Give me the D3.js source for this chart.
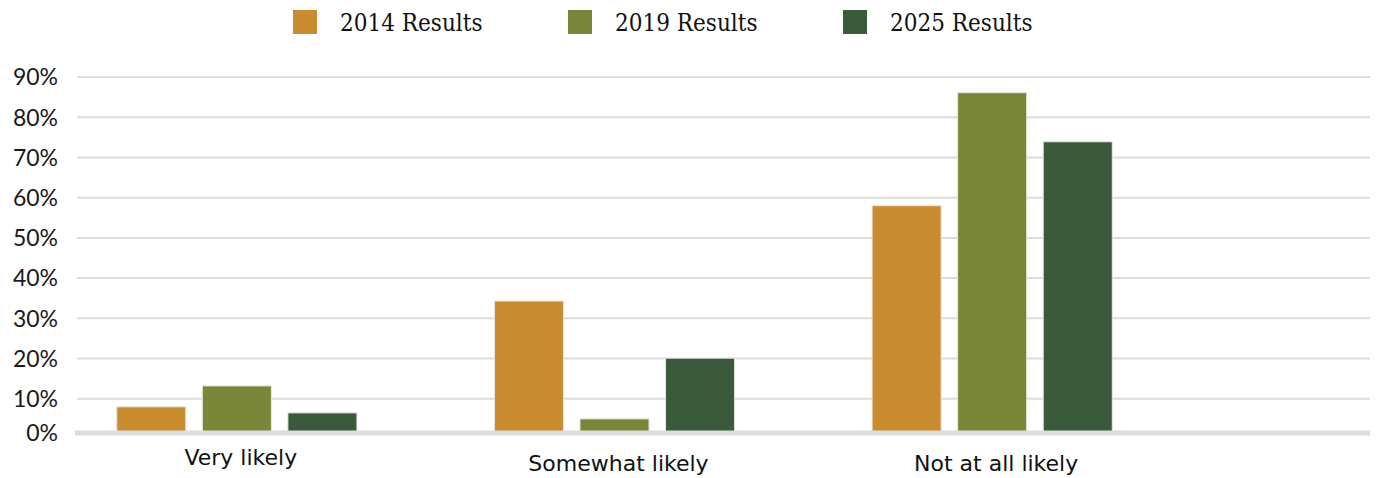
<!DOCTYPE html>
<html>
<head>
<meta charset="utf-8">
<script src="https://cdn.jsdelivr.net/npm/d3@7"></script>
<style>
  body { margin: 0; background: #fff; }
</style>
</head>
<body>
<div id="viz"></div>
<script>
// survey answers by year

const categories = ["Very likely", "Somewhat likely", "Not at all likely"];
const seriesNames = ["2014 Results", "2019 Results", "2025 Results"];
const seriesColors = ["#c98c2e", "#7a8637", "#3a5a3a"];
const results2014 = [8, 34.3, 58];
const results2019 = [13.2, 5, 86.1];
const results2025 = [6.5, 20.1, 73.9];
const yTicks = [0, 10, 20, 30, 40, 50, 60, 70, 80, 90];

const seriesValues = [results2014, results2019, results2025];

function drawChart() {
    const width = 1376, height = 478;
    const baseY = 433;

    const svg = d3.select('#viz').append('svg')
        .attr('width', width)
        .attr('height', height);

    const y = d3.scaleLinear()
        .domain([0, 90])
        .range([439, 77]);

    const x0 = d3.scaleBand()
        .domain(categories)
        .range([48, 1181])
        .paddingInner(0.364)
        .paddingOuter(0.182);

    const x1 = d3.scaleBand()
        .domain(seriesNames)
        .range([0, x0.bandwidth()])
        .paddingInner(0.193);

    // gridlines
    svg.append('g')
        .selectAll('line')
        .data(yTicks.filter(d => d > 0))
        .enter().append('line')
            .attr('x1', 77)
            .attr('x2', 1370)
            .attr('y1', d => y(d))
            .attr('y2', d => y(d))
            .style('stroke', '#dcdcdc')
            .style('stroke-width', 2);

    // y tick labels
    svg.append('g')
        .selectAll('text')
        .data(yTicks)
        .enter().append('text')
            .attr('x', 58)
            .attr('y', d => d === 0 ? baseY : y(d))
            .attr('dy', '0.36em')
            .attr('text-anchor', 'end')
            .style('font-family', 'Lato, sans-serif')
            .style('font-size', '23px')
            .style('fill', '#1a1a1a')
            .text(d => d + '%');

    // bars
    const groups = svg.append('g')
        .selectAll('g')
        .data(categories)
        .enter().append('g')
            .attr('transform', d => `translate(${x0(d)},0)`);

    groups.selectAll('rect')
        .data((c, ci) => seriesNames.map((s, si) => ({ s: s, v: seriesValues[si][ci], color: seriesColors[si] })))
        .enter().append('rect')
            .attr('x', d => x1(d.s))
            .attr('y', d => y(d.v))
            .attr('width', x1.bandwidth())
            .attr('height', d => baseY - y(d.v))
            .attr('fill', d => d.color)
            .style('stroke', '#e8e8e0')
            .style('stroke-width', 1);

    // baseline
    svg.append('line')
        .attr('x1', 75)
        .attr('x2', 1370)
        .attr('y1', baseY)
        .attr('y2', baseY)
        .style('stroke', '#dcdcdc')
        .style('stroke-width', 5);

    // category labels
    svg.append('g')
        .selectAll('text')
        .data(categories)
        .enter().append('text')
            .attr('x', d => x0(d) + x0.bandwidth() / 2 + 4)
            .attr('y', (d, i) => i === 0 ? 465 : 471)
            .attr('text-anchor', 'middle')
            .style('font-family', '"DejaVu Sans", sans-serif')
            .style('font-size', '22px')
            .style('fill', '#111')
            .text(d => d);

    // legend
    const legend = svg.append('g')
        .selectAll('g')
        .data(seriesNames)
        .enter().append('g')
            .attr('transform', (d, i) => `translate(${293 + i * 275},10)`);

    legend.append('rect')
        .attr('width', 24)
        .attr('height', 24)
        .attr('fill', (d, i) => seriesColors[i]);

    legend.append('text')
        .attr('x', 47)
        .attr('y', 21)
        .style('font-family', '"DejaVu Serif Condensed", "DejaVu Serif", serif')
        .style('font-size', '24px')
        .style('fill', '#111')
        .text(d => d);
}

drawChart();
</script>
</body>
</html>
